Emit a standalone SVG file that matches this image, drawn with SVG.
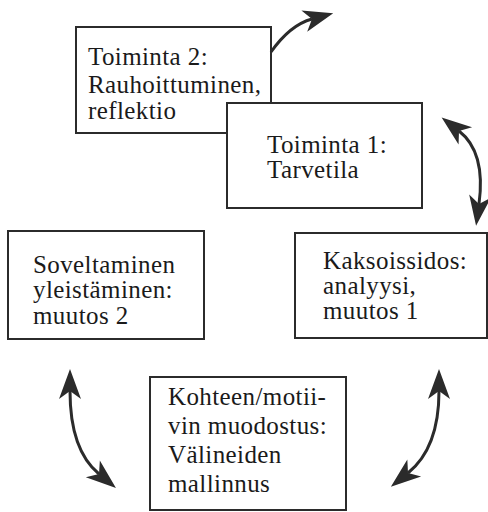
<svg xmlns="http://www.w3.org/2000/svg" width="488" height="512" viewBox="0 0 488 512">
<style>
.box{fill:#fff;stroke:#2b2b2b;stroke-width:2}
.lbl{font-family:"Liberation Serif","Times New Roman",serif;font-size:25px;letter-spacing:0.4px;fill:#1a1a1a}
.arr{fill:none;stroke:#2b2b2b;stroke-width:3}
</style>
<defs>
<marker id="ah" viewBox="-9 -12 33 24" refX="0" refY="0" markerWidth="33" markerHeight="24" markerUnits="userSpaceOnUse" orient="auto-start-reverse">
<path d="M22,0 L-8,-11 L0,0 L-8,11 Z" fill="#2b2b2b"/>
</marker>
</defs>
<rect width="488" height="512" fill="#fff"/>
<g id="toiminta2">
<rect class="box" x="76" y="27" width="195" height="106"/>
<text class="lbl" x="88" y="65">Toiminta 2:</text>
<text class="lbl" x="88" y="93">Rauhoittuminen,</text>
<text class="lbl" x="88" y="119">reflektio</text>
</g>
<g id="toiminta1">
<rect class="box" x="227" y="103" width="195" height="105"/>
<text class="lbl" x="267" y="153">Toiminta 1:</text>
<text class="lbl" x="267" y="178">Tarvetila</text>
</g>
<g id="soveltaminen">
<rect class="box" x="8" y="231" width="196" height="108"/>
<text class="lbl" x="33" y="273">Soveltaminen</text>
<text class="lbl" x="33" y="298">yleistäminen:</text>
<text class="lbl" x="33" y="324">muutos 2</text>
</g>
<g id="kaksoissidos">
<rect class="box" x="295" y="233" width="192" height="105"/>
<text class="lbl" x="323" y="269">Kaksoissidos:</text>
<text class="lbl" x="323" y="294">analyysi,</text>
<text class="lbl" x="323" y="319">muutos 1</text>
</g>
<g id="kohteen">
<rect class="box" x="150" y="377" width="196" height="133"/>
<text class="lbl" x="168" y="405">Kohteen/motii-</text>
<text class="lbl" x="168" y="434">vin muodostus:</text>
<text class="lbl" x="168" y="463">Välineiden</text>
<text class="lbl" x="168" y="492">mallinnus</text>
</g>
<g id="connectors">
<path class="arr" d="M271,52 Q290,25 312,19" marker-end="url(#ah)"/>
<path class="arr" d="M459,131 Q486,152 479,204" marker-start="url(#ah)" marker-end="url(#ah)"/>
<path class="arr" d="M70,391 Q70,450 99,474" marker-start="url(#ah)" marker-end="url(#ah)"/>
<path class="arr" d="M439,391 Q439,448 408,473" marker-start="url(#ah)" marker-end="url(#ah)"/>
</g>
</svg>
